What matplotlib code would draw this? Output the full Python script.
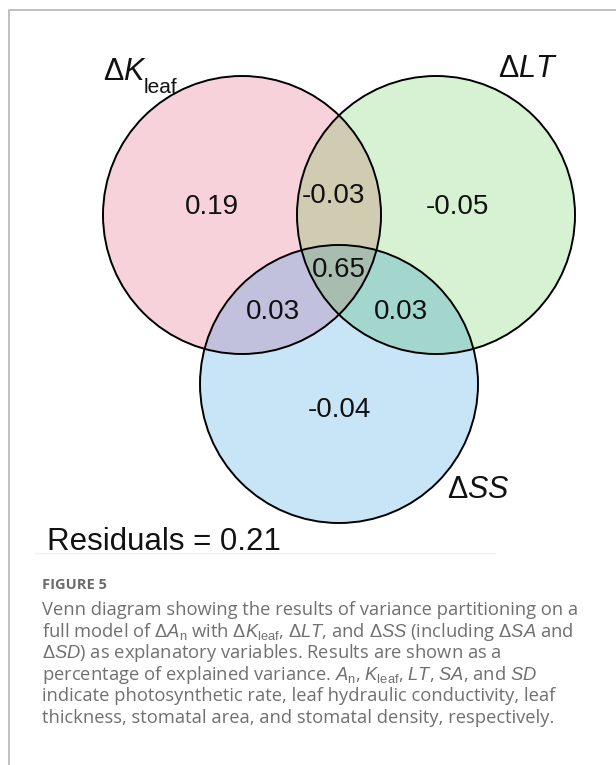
import numpy as np
import matplotlib
matplotlib.use('Agg')
import matplotlib.pyplot as plt
from matplotlib.patches import Circle, Polygon

plt.rcParams['mathtext.fontset'] = 'custom'
plt.rcParams['mathtext.rm'] = 'Liberation Sans'
plt.rcParams['mathtext.it'] = 'Liberation Sans:italic'

# variance partitioning results (fractions of explained variance)
set_labels = [r'$\Delta\mathit{K}$', r'$\Delta\mathit{LT}$', r'$\Delta\mathit{SS}$']
k_subscript = 'leaf'
only_k, only_lt, only_ss = 0.19, -0.05, -0.04
k_lt, k_ss, lt_ss = -0.03, 0.03, 0.03
k_lt_ss = 0.65
residuals = 0.21

caption_title = 'FIGURE 5'
caption_lines = [
    'Venn diagram showing the results of variance partitioning on a',
    r'full model of $\Delta\mathit{A}_{\mathrm{n}}$ with $\Delta\mathit{K}_{\mathrm{leaf}}$, '
    r'$\Delta\mathit{LT}$, and $\Delta\mathit{SS}$ (including $\Delta\mathit{SA}$ and',
    r'$\Delta\mathit{SD}$) as explanatory variables. Results are shown as a',
    r'percentage of explained variance. $\mathit{A}_{\mathrm{n}}$, $\mathit{K}_{\mathrm{leaf}}$, '
    r'$\mathit{LT}$, $\mathit{SA}$, and $\mathit{SD}$',
    'indicate photosynthetic rate, leaf hydraulic conductivity, leaf',
    'thickness, stomatal area, and stomatal density, respectively.',
]

W, H = 616, 765
fig = plt.figure(figsize=(W / 100, H / 100), dpi=100)
ax = fig.add_axes([0, 0, 1, 1])
ax.set_xlim(0, W)
ax.set_ylim(H, 0)
ax.set_aspect('equal')
ax.axis('off')

# circle layout (pixels)
r = 139
centers = {'k': (242, 215), 'lt': (436, 215), 'ss': (339, 384)}
fills = {'k': '#f7d2da', 'lt': '#d6f2d3', 'ss': '#c8e4f7'}


def circ(key, **kw):
    return Circle(centers[key], r, **kw)


def lens(a, b, n=720):
    # polygon of the overlap of two circles
    t = np.linspace(0, 2 * np.pi, n)
    pts = []
    for p, q in ((a, b), (b, a)):
        cx, cy = centers[p]
        xs, ys = cx + r * np.cos(t), cy + r * np.sin(t)
        qx, qy = centers[q]
        inside = (xs - qx) ** 2 + (ys - qy) ** 2 <= r ** 2
        pts.append(np.column_stack([xs[inside], ys[inside]]))
    pts = np.vstack(pts)
    c = pts.mean(axis=0)
    order = np.argsort(np.arctan2(pts[:, 1] - c[1], pts[:, 0] - c[0]))
    return pts[order]


for key in ('k', 'lt', 'ss'):
    ax.add_patch(circ(key, facecolor=fills[key], edgecolor='none', zorder=1))

pair_cols = {('k', 'lt'): '#cfccb1', ('k', 'ss'): '#c1c0dd', ('lt', 'ss'): '#a3d7cd'}
for (a, b), col in pair_cols.items():
    clip = circ(a, transform=ax.transData)
    p = ax.add_patch(circ(b, facecolor=col, edgecolor='none', zorder=2))
    p.set_clip_path(clip)

tri = ax.add_patch(Polygon(lens('lt', 'ss'), closed=True, facecolor='#a8bdb0',
                           edgecolor='none', zorder=3))
tri.set_clip_path(circ('k', transform=ax.transData))

for key in ('k', 'lt', 'ss'):
    ax.add_patch(circ(key, facecolor='none', edgecolor='black', lw=1.4, zorder=4))

num_style = dict(ha='center', va='center', fontsize=20, family='Liberation Sans',
                 color='#111111', zorder=5)
region_vals = [
    (only_k, (212, 207)), (only_lt, (457, 207)), (only_ss, (339, 410)),
    (k_lt, (333, 196)), (k_ss, (273, 312)), (lt_ss, (401, 312)),
    (k_lt_ss, (339, 270)),
]
for v, (x, y) in region_vals:
    ax.text(x, y, f'{v:.2f}', **num_style)

lab_style = dict(fontsize=22, family='Liberation Sans', color='#111111', zorder=5)
tk = ax.text(103, 80, set_labels[0], ha='left', va='baseline', **lab_style)
# the "leaf" subscript sits below the K baseline, tucked against the K
ax.annotate(k_subscript, xy=(1, 0), xycoords=tk, xytext=(-2.5, -4),
            textcoords='offset points', ha='left', va='baseline',
            fontsize=15, family='Liberation Sans', color='#111111')
ax.text(498, 77, set_labels[1], ha='left', va='baseline', **lab_style)
ax.text(447, 498, set_labels[2], ha='left', va='baseline', **lab_style)

ax.text(47, 550, f'Residuals = {residuals:.2f}', ha='left', va='baseline',
        fontsize=22.5, family='Liberation Sans', color='#111111')

# faint rule under the figure and the page frame
ax.plot([35, 495], [553, 553], color='#f2f2f2', lw=1)
ax.plot([9, 9, W + 5], [H + 5, 10, 10], color='#b5b5b5', lw=1.2,
        solid_joinstyle='round')

ax.text(42, 589, caption_title, ha='left', va='baseline', fontsize=10.5,
        family='Open Sans', weight='bold', color='#6b6b6b')
for i, line in enumerate(caption_lines):
    ax.text(42, 615 + i * 21.6, line, ha='left', va='baseline', fontsize=13.2,
            family='Open Sans', color='#707070')

fig.savefig('out.png', dpi=100)
